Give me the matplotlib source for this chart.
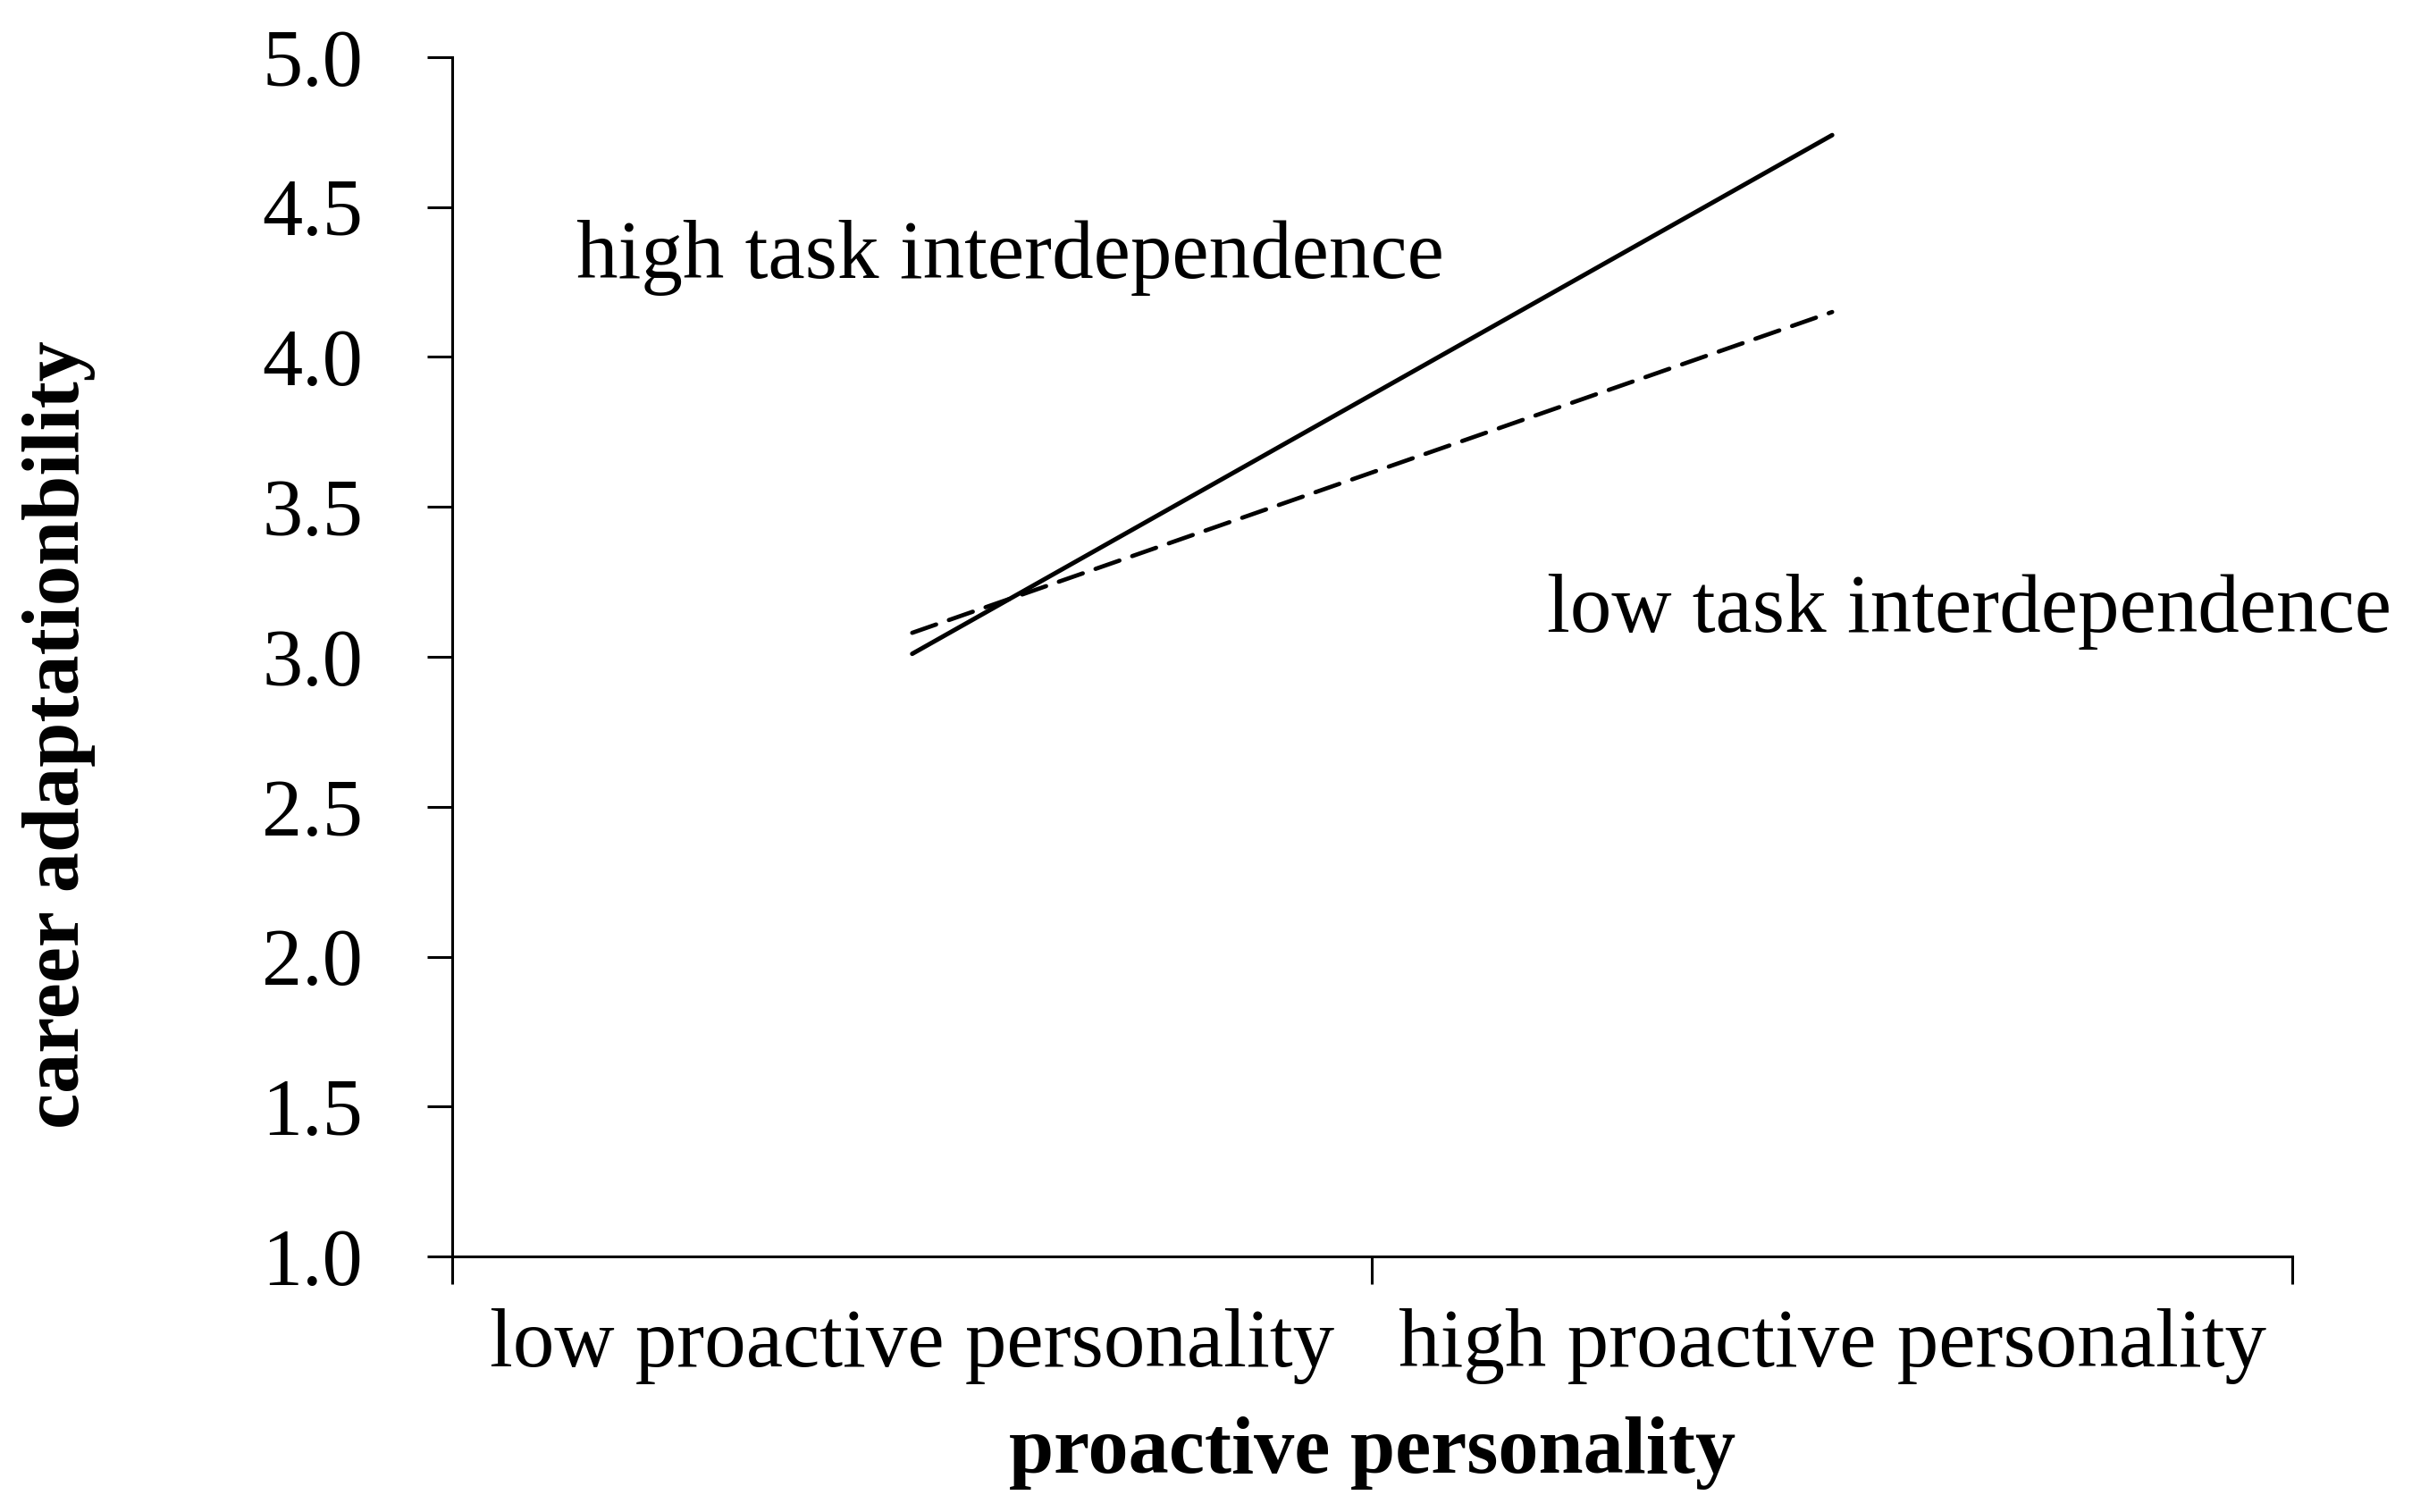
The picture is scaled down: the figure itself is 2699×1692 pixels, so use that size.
import matplotlib
matplotlib.use("Agg")
import matplotlib.pyplot as plt

categories = ["low proactive personality", "high proactive personality"]
high_task = [3.01, 4.74]   # solid line
low_task = [3.08, 4.15]    # dashed line
y_ticks = [1.0, 1.5, 2.0, 2.5, 3.0, 3.5, 4.0, 4.5, 5.0]

plt.rcParams['font.family'] = ['Liberation Serif', 'DejaVu Serif']

fig = plt.figure(figsize=(26.99, 16.92), dpi=100)
ax = fig.add_axes([0.1875, 0.169, 0.7628, 0.7932])

x = list(range(len(categories)))
ax.plot(x, high_task, color='black', lw=3.6, solid_capstyle='round')
line, = ax.plot(x, low_task, color='black', lw=3.4, dash_capstyle='round')
line.set_dashes((6, 3.2))

ax.text(-0.365, 4.33, "high task interdependence", fontsize=67, va='center', ha='left')
ax.text(0.69, 3.15, "low task interdependence", fontsize=67, va='center', ha='left')

ax.set_xlim(-0.5, 1.5)
ax.set_ylim(1.0, 5.0)
ax.set_yticks(y_ticks)
ax.set_yticklabels([f"{v:.1f}" for v in y_ticks])

# category axis: ticks at boundaries, labels at centres
ax.set_xticks([-0.5, 0.5, 1.5])
ax.set_xticklabels([])
ax.set_xticks(x, minor=True)
ax.set_xticklabels(categories, minor=True)
ax.tick_params(axis='x', which='minor', length=0, pad=42, labelsize=67)
ax.tick_params(axis='x', which='major', length=22, width=2.2, direction='out')
ax.tick_params(axis='y', length=20, width=2.2, direction='out', pad=52, labelsize=65)

for s in ['top', 'right']:
    ax.spines[s].set_visible(False)
for s in ['left', 'bottom']:
    ax.spines[s].set_linewidth(2.2)

ax.set_xlabel("proactive personality", fontsize=65, fontweight='bold', labelpad=26)
ax.set_ylabel("career adaptationbility", fontsize=65, fontweight='bold')
ax.yaxis.set_label_coords(-0.194, 0.435)

fig.savefig("out.png", dpi=100, facecolor='white')
